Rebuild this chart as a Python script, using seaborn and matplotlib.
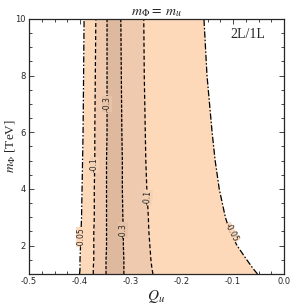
import numpy as np
import pandas as pd
import seaborn as sns
from matplotlib import pyplot as plt
from matplotlib.ticker import MultipleLocator

sns.set_style("ticks")
plt.rcParams['font.family'] = ['DejaVu Sans']
plt.rcParams['mathtext.fontset'] = 'stix'

m_phi = [1.0, 1.2, 1.5, 2.0, 2.5, 3.0, 4.0, 5.0, 6.0, 8.0, 10.0]

# Q_u position of each contour (2L/1L ratio level) at the m_phi values above
q_m005_left = [-0.401, -0.400, -0.400, -0.399, -0.398, -0.397, -0.396, -0.395, -0.394, -0.393, -0.392]
q_m01_left = [-0.374, -0.374, -0.373, -0.373, -0.373, -0.372, -0.372, -0.371, -0.371, -0.370, -0.369]
q_m03_left = [-0.349, -0.349, -0.349, -0.348, -0.348, -0.348, -0.348, -0.348, -0.347, -0.347, -0.347]
q_m03_right = [-0.314, -0.314, -0.314, -0.315, -0.315, -0.316, -0.317, -0.317, -0.318, -0.319, -0.320]
q_m01_right = [-0.257, -0.259, -0.261, -0.263, -0.265, -0.266, -0.269, -0.271, -0.272, -0.274, -0.275]
q_m005_right = [-0.052, -0.061, -0.073, -0.092, -0.106, -0.115, -0.127, -0.135, -0.141, -0.151, -0.157]

levels = ['-0.05', '-0.1', '-0.3']
fill_colors = ['#fdd9b9', '#efcaae', '#dfb99d']
line_dashes = [(5, 1.6, 1.2, 1.6), (3.2, 2.0), (2.6, 1.2)]

# contour label spots: (level, Q_u, m_phi, rotation)
label_spots = [
    ('-0.05', -0.3985, 2.3, 90),
    ('-0.1', -0.3715, 4.85, 90),
    ('-0.3', -0.3475, 7.0, 90),
    ('-0.3', -0.3155, 2.55, 90),
    ('-0.1', -0.2675, 3.7, 86),
    ('-0.05', -0.104, 2.45, -62),
]
label_bg = {'-0.05': '#fdd9b9', '-0.1': '#f6d2b4', '-0.3': '#e8c2a6'}

pairs = [(q_m005_left, q_m005_right), (q_m01_left, q_m01_right), (q_m03_left, q_m03_right)]

fig = plt.figure(figsize=(2.91, 3.04), dpi=100)
ax = fig.add_axes([0.0997, 0.0987, 0.8763, 0.8388])

for (left, right), col in zip(pairs, fill_colors):
    ax.fill_betweenx(m_phi, left, right, color=col, lw=0)

for (left, right), dash in zip(pairs, line_dashes):
    for side in (left, right):
        df = pd.DataFrame({'Q': side, 'm': m_phi})
        sns.lineplot(data=df, x='Q', y='m', orient='y', sort=False, ax=ax,
                     color='black', lw=0.9, dashes=False)
        ax.lines[-1].set_dashes(dash)

for lev, q, m, rot in label_spots:
    ax.text(q, m, lev, rotation=rot, fontsize=5.5, ha='center', va='center',
            rotation_mode='anchor',
            bbox=dict(facecolor=label_bg[lev], edgecolor='none', pad=0.3))

ax.set_xlim(-0.5, 0.0)
ax.set_ylim(1.0, 10.0)
ax.xaxis.set_major_locator(MultipleLocator(0.1))
ax.xaxis.set_minor_locator(MultipleLocator(0.025))
ax.yaxis.set_major_locator(MultipleLocator(2))
ax.yaxis.set_minor_locator(MultipleLocator(0.5))
ax.set_xticks(np.arange(-0.5, 0.01, 0.1))
ax.set_xticklabels(['-0.5', '-0.4', '-0.3', '-0.2', '-0.1', '0.0'])
ax.tick_params(which='both', direction='in', top=True, right=True,
               labelsize=6, width=0.6, pad=2.5)
ax.tick_params(which='major', length=3.5)
ax.tick_params(which='minor', length=2)
for sp in ax.spines.values():
    sp.set_linewidth(0.9)

ax.set_xlabel(r'$Q_u$', fontsize=11, labelpad=1)
ax.set_ylabel(r'$m_\Phi$ [TeV]', fontsize=9.5, family='Liberation Serif')
ax.yaxis.set_label_coords(-0.045, 0.5)
ax.set_title(r'$m_\Phi =\ m_u$', fontsize=10, pad=3)
ax.text(-0.071, 9.47, '2L/1L', fontsize=10, family='Liberation Serif',
        ha='center', va='center')

fig.savefig('out.png', dpi=100)
